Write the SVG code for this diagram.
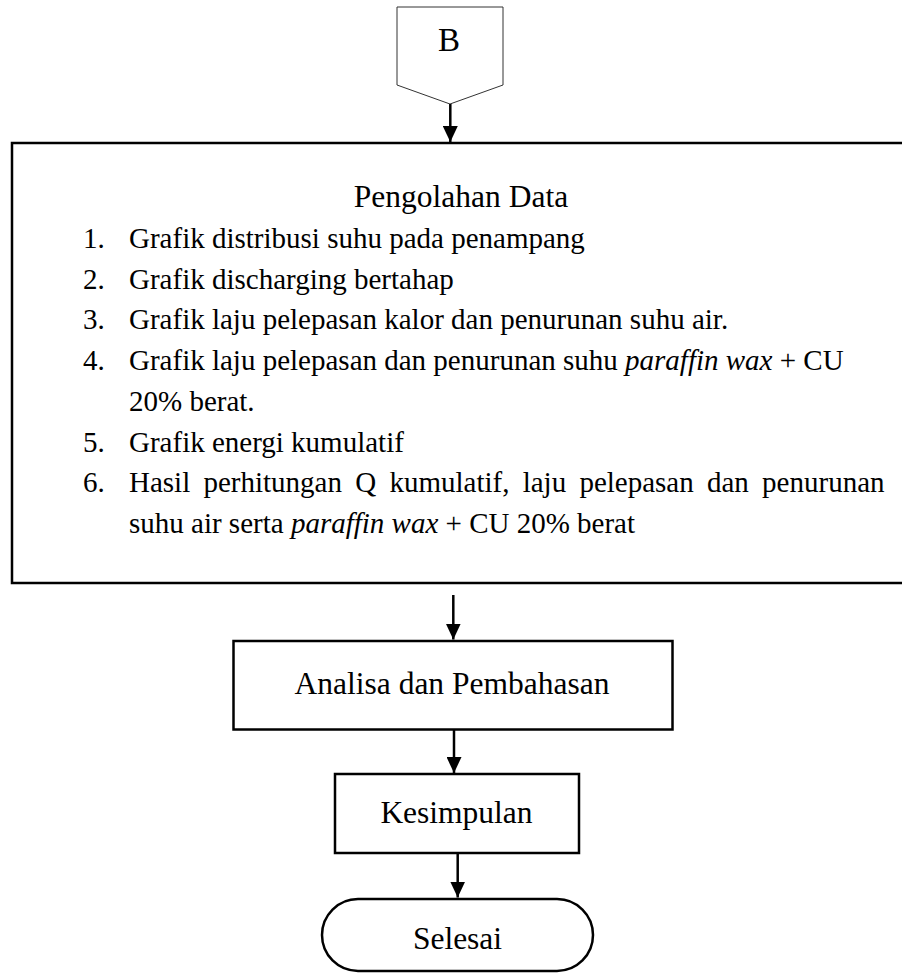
<svg xmlns="http://www.w3.org/2000/svg" width="902" height="973" viewBox="0 0 902 973">
  <style>
    .box { fill: #ffffff; stroke: #000000; stroke-width: 2.5; }
    .conn { stroke: #000000; stroke-width: 2.5; fill: none; }
    .t { font-family: "Liberation Serif", "Times New Roman", serif; fill: #000000; }
    .big { font-size: 31.5px; }
    .item { font-size: 29px; }
    .em { font-style: italic; }
  </style>
  <defs>
    <!-- filled triangular head, drawn along +x so orient="auto" points it down the line -->
    <marker id="arrow" viewBox="0 0 16 15" refX="16" refY="7.5" markerWidth="16" markerHeight="15" markerUnits="userSpaceOnUse" orient="auto">
      <path d="M0,0 L16,7.5 L0,15 Z" fill="#000000"/>
    </marker>
  </defs>

  <rect width="902" height="973" fill="#ffffff"/>

  <!-- off-page connector B -->
  <g id="node-B">
    <path d="M397,7 L503,7 L503,85 L450,104 L397,85 Z" fill="#ffffff" stroke="#333333" stroke-width="1"/>
    <text class="t" x="449" y="51" font-size="33" text-anchor="middle">B</text>
  </g>

  <!-- data processing block (runs past the right edge) -->
  <g id="node-pengolahan">
    <rect class="box" x="12" y="143" width="905" height="440"/>
    <text class="t big" x="461" y="207" text-anchor="middle">Pengolahan Data</text>
    <g class="t item">
      <text x="83" y="248">1.</text>
      <text x="129" y="248">Grafik distribusi suhu pada penampang</text>
      <text x="83" y="288.7">2.</text>
      <text x="129" y="288.7">Grafik discharging bertahap</text>
      <text x="83" y="329.4">3.</text>
      <text x="129" y="329.4">Grafik laju pelepasan kalor dan penurunan suhu air.</text>
      <text x="83" y="370.1">4.</text>
      <text x="129" y="370.1">Grafik laju pelepasan dan penurunan suhu <tspan class="em">paraffin wax</tspan> + CU</text>
      <text x="129" y="410.8">20% berat.</text>
      <text x="83" y="451.5">5.</text>
      <text x="129" y="451.5">Grafik energi kumulatif</text>
      <text x="83" y="492.2">6.</text>
      <text x="129" y="492.2" word-spacing="6">Hasil perhitungan Q kumulatif, laju pelepasan dan penurunan</text>
      <text x="129" y="532.9">suhu air serta <tspan class="em">paraffin wax</tspan> + CU 20% berat</text>
    </g>
  </g>

  <g id="node-analisa">
    <rect class="box" x="233.5" y="641" width="439" height="88.5"/>
    <text class="t big" x="452" y="694" text-anchor="middle">Analisa dan Pembahasan</text>
  </g>

  <g id="node-kesimpulan">
    <rect class="box" x="335" y="774" width="244" height="79"/>
    <text class="t big" x="456.5" y="823" text-anchor="middle">Kesimpulan</text>
  </g>

  <g id="node-selesai">
    <rect class="box" x="322" y="899" width="271" height="72" rx="36" ry="36"/>
    <text class="t big" x="457.5" y="949" text-anchor="middle">Selesai</text>
  </g>

  <g id="connectors">
    <line class="conn" x1="450.3" y1="104" x2="450.3" y2="142" marker-end="url(#arrow)"/>
    <line class="conn" x1="453.3" y1="595" x2="453.3" y2="639.5" marker-end="url(#arrow)"/>
    <line class="conn" x1="454" y1="730" x2="454" y2="773" marker-end="url(#arrow)"/>
    <line class="conn" x1="457.7" y1="853" x2="457.7" y2="897.5" marker-end="url(#arrow)"/>
  </g>
</svg>
